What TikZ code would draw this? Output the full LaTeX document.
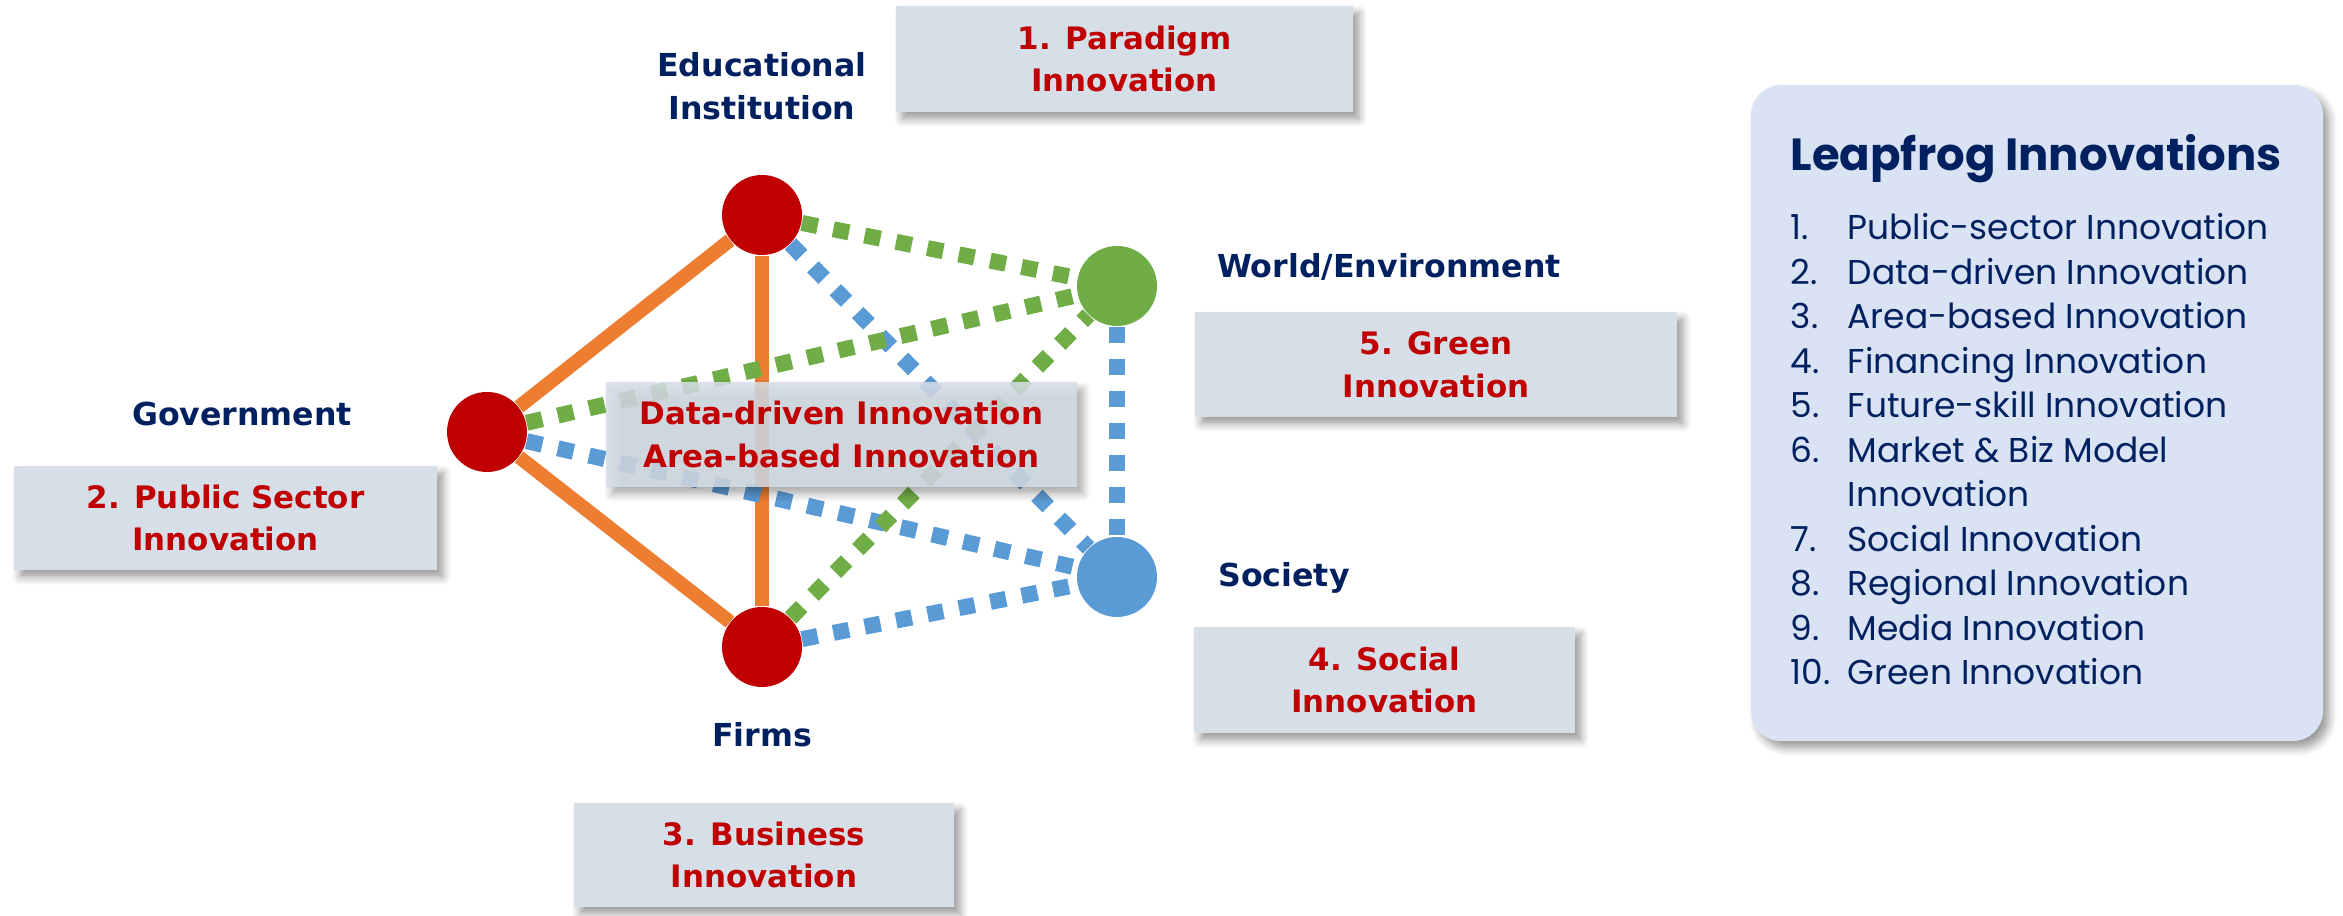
\documentclass[tikz,border=0pt]{standalone}
\usepackage{fontspec}
\setmainfont{DejaVu Sans}
\newfontfamily\listfont{Poppins}
\usetikzlibrary{shadows.blur}

\definecolor{navy}{RGB}{0,32,96}
\definecolor{darkred}{RGB}{192,0,0}
\definecolor{leafgreen}{RGB}{112,173,71}
\definecolor{skyblue}{RGB}{91,155,213}
\definecolor{linkorange}{RGB}{237,125,49}
\definecolor{boxgray}{RGB}{214,222,232}
\definecolor{panelblue}{RGB}{218,227,243}

\tikzset{
  actor/.style={circle, minimum size=0.8cm, inner sep=0pt},
  who/.style={font=\bfseries\fontsize{9}{12.2}\selectfont, text=navy, align=center},
  softshadow/.style={blur shadow={shadow xshift=0.06cm, shadow yshift=-0.07cm,
    shadow blur steps=6, shadow blur radius=0.08cm, shadow opacity=40}},
  innobox/.style={fill=boxgray, text=darkred, inner sep=0pt, align=center,
    font=\bfseries\fontsize{8.8}{12.2}\selectfont, softshadow},
  solidlink/.style={linkorange, line width=0.14cm},
  dotlink/.style={line width=0.16cm, dash pattern=on 0.16cm off 0.16cm},
}

\begin{document}
\begin{tikzpicture}
  \useasboundingbox (0,0) rectangle (23.43,9.16);

  % the five actors
  \node[actor, fill=darkred] (edu) at (7.62,7.01) {};
  \node[actor, fill=leafgreen] (world) at (11.17,6.30) {};
  \node[actor, fill=darkred] (gov) at (4.87,4.84) {};
  \node[actor, fill=darkred] (firms) at (7.62,2.69) {};
  \node[actor, fill=skyblue] (society) at (11.17,3.39) {};

  \node[who] (edulabel) at (7.62,8.30) {Educational\\Institution};
  \node[who] (worldlabel) at (13.89,6.49) {World/Environment};
  \node[who] (govlabel) at (2.42,5.02) {Government};
  \node[who] (societylabel) at (12.84,3.38) {Society};
  \node[who] (firmslabel) at (7.62,1.81) {Firms};

  % links
  \draw[solidlink] (edu) -- (gov);
  \draw[solidlink] (gov) -- (firms);
  \draw[solidlink] (edu) -- (firms);
  \draw[dotlink, skyblue] (edu) -- (society);
  \draw[dotlink, skyblue] (gov) -- (society);
  \draw[dotlink, skyblue] (firms) -- (society);
  \draw[dotlink, skyblue] (world) -- (society);
  \draw[dotlink, leafgreen] (edu) -- (world);
  \draw[dotlink, leafgreen] (gov) -- (world);
  \draw[dotlink, leafgreen] (firms) -- (world);

  % innovation boxes
  \node[innobox, minimum width=4.57cm, minimum height=1.06cm] (paradigm) at (11.245,8.57) {1. Paradigm\\Innovation};
  \node[innobox, minimum width=4.82cm, minimum height=1.05cm] (green) at (14.36,5.515) {5. Green\\Innovation};
  \node[innobox, minimum width=4.71cm, minimum height=1.05cm, fill opacity=0.85, text opacity=1] (datadriven) at (8.415,4.815) {Data-driven Innovation\\Area-based Innovation};
  \node[innobox, minimum width=4.23cm, minimum height=1.04cm] (public) at (2.255,3.98) {2. Public Sector\\Innovation};
  \node[innobox, minimum width=3.81cm, minimum height=1.06cm] (social) at (13.845,2.36) {4. Social\\Innovation};
  \node[innobox, minimum width=3.80cm, minimum height=1.04cm] (business) at (7.64,0.61) {3. Business\\Innovation};

  % leapfrog panel
  \node[fill=panelblue, rounded corners=0.3cm, minimum width=5.72cm, minimum height=6.56cm,
    softshadow] (panel) at (20.37,5.03) {};
  \node[anchor=west, inner sep=0pt, text=navy, font=\listfont\bfseries\fontsize{12.8}{15}\selectfont] (paneltitle) at (17.90,7.57) {Leapfrog Innovations};
  \node[anchor=north west, inner sep=0pt, text=navy, font=\listfont\fontsize{9.8}{12.66}\selectfont] (panellist) at (17.90,7.08) {%
    \begin{tabular}{@{}p{16.2pt}@{}l@{}}
      1. & Public-sector Innovation\\
      2. & Data-driven Innovation\\
      3. & Area-based Innovation\\
      4. & Financing Innovation\\
      5. & Future-skill Innovation\\
      6. & Market \& Biz Model\\
         & Innovation\\
      7. & Social Innovation\\
      8. & Regional Innovation\\
      9. & Media Innovation\\
      10. & Green Innovation
    \end{tabular}};

\end{tikzpicture}
\end{document}
